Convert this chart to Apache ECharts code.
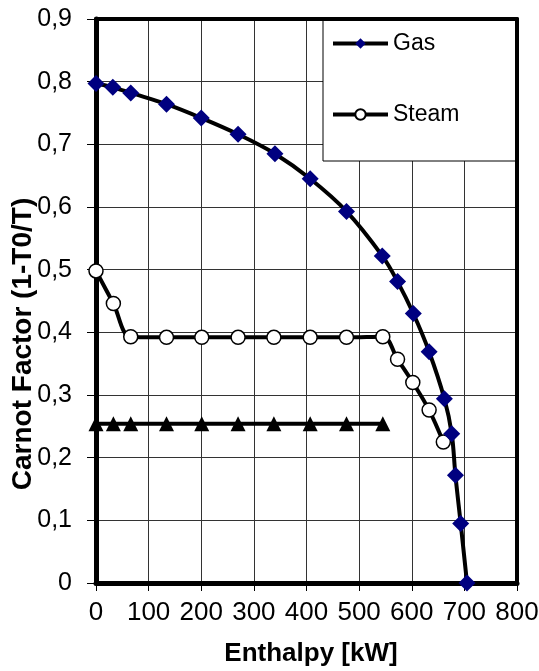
<!DOCTYPE html>
<html>
<head>
<meta charset="utf-8">
<script src="https://cdn.jsdelivr.net/npm/echarts@6/dist/echarts.min.js"></script>
<style>
html,body{margin:0;padding:0;background:#fff;}
#chart{width:539px;height:671px;}
</style>
</head>
<body>
<div id="chart"></div>
<script>
const gasX = [0, 32, 66, 134, 200, 270, 340, 407, 476, 544, 573, 603, 633, 662, 676, 683, 693, 705];
const gasY = [0.797, 0.791, 0.782, 0.764, 0.742, 0.716, 0.685, 0.645, 0.593, 0.522, 0.481, 0.430, 0.369, 0.294, 0.238, 0.172, 0.095, 0.0];
const steamX = [0, 33, 66, 134, 201, 270, 338, 407, 476, 545, 573, 602, 633, 660];
const steamY = [0.498, 0.446, 0.393, 0.392, 0.392, 0.392, 0.392, 0.392, 0.392, 0.393, 0.357, 0.320, 0.276, 0.225];
const refX = [0, 33, 66, 134, 201, 270, 338, 407, 476, 545];
const refY = [0.254, 0.254, 0.254, 0.254, 0.254, 0.254, 0.254, 0.254, 0.254, 0.254];
const yTickLabels = ['0', '0,1', '0,2', '0,3', '0,4', '0,5', '0,6', '0,7', '0,8', '0,9'];
const xTickLabels = ['0', '100', '200', '300', '400', '500', '600', '700', '800'];

const pairs = (xs, ys) => xs.map((x, i) => [x, ys[i]]);
const font = 'Liberation Sans, Arial, sans-serif';

const chart = echarts.init(document.getElementById('chart'));
chart.setOption({
  animation: false,
  backgroundColor: '#fff',
  grid: { left: 96, right: 22, top: 19, bottom: 88, containLabel: false, outerBoundsMode: 'none' },
  legend: {
    data: ['Gas', 'Steam'],
    orient: 'vertical',
    left: 323, top: 19,
    padding: [13, 59, 35, 8],
    itemWidth: 55, itemHeight: 13,
    itemGap: 48,
    backgroundColor: '#fff',
    borderColor: '#000', borderWidth: 1,
    lineStyle: { width: 4 },
    textStyle: { fontFamily: font, fontSize: 23, color: '#000' }
  },
  xAxis: [{
    type: 'value', min: 0, max: 800, interval: 100,
    name: 'Enthalpy [kW]', nameLocation: 'middle', nameGap: 58,
    nameTextStyle: { fontFamily: font, fontSize: 26, fontWeight: 'bold', color: '#000', padding: [0, 0, 0, 9] },
    axisLine: { show: true, onZero: false, lineStyle: { color: '#000', width: 5 } },
    axisTick: { show: true, inside: false, length: 8, lineStyle: { color: '#000', width: 1 } },
    axisLabel: { margin: 17, fontFamily: font, fontSize: 26, color: '#000',
      formatter: v => xTickLabels[Math.round(v / 100)] },
    splitLine: { show: true, lineStyle: { color: '#333', width: 1 } }
  }, {
    type: 'value', min: 0, max: 800, position: 'top', z: 10,
    axisLine: { show: true, onZero: false, lineStyle: { color: '#000', width: 4 } },
    axisTick: { show: false }, axisLabel: { show: false }, splitLine: { show: false }
  }],
  yAxis: [{
    type: 'value', min: 0, max: 0.9, interval: 0.1,
    name: 'Carnot Factor (1-T0/T)', nameLocation: 'middle', nameGap: 59,
    nameMoveOverlap: false,
    nameTextStyle: { fontFamily: font, fontSize: 28, fontWeight: 'bold', color: '#000', padding: [0, 86, 0, 0] },
    axisLine: { show: true, onZero: false, lineStyle: { color: '#000', width: 5 } },
    axisTick: { show: true, inside: false, length: 9, lineStyle: { color: '#000', width: 1 } },
    axisLabel: { margin: 24, fontFamily: font, fontSize: 25, color: '#000',
      formatter: v => yTickLabels[Math.round(v * 10)] },
    splitLine: { show: true, lineStyle: { color: '#333', width: 1 } }
  }, {
    type: 'value', min: 0, max: 0.9, position: 'right', z: 10,
    axisLine: { show: true, onZero: false, lineStyle: { color: '#000', width: 4 } },
    axisTick: { show: false }, axisLabel: { show: false }, splitLine: { show: false }
  }],
  series: [{
    name: 'Ref', type: 'line', data: pairs(refX, refY),
    symbol: 'triangle', symbolSize: 15,
    itemStyle: { color: '#000' },
    lineStyle: { color: '#000', width: 4 }
  }, {
    name: 'Steam', type: 'line', data: pairs(steamX, steamY), smooth: 0.35,
    symbol: 'circle', symbolSize: 14,
    itemStyle: { color: '#fff', borderColor: '#000', borderWidth: 1.5 },
    lineStyle: { color: '#000', width: 4 }
  }, {
    name: 'Gas', type: 'line', data: pairs(gasX, gasY), smooth: 0.35,
    symbol: 'diamond', symbolSize: 17,
    itemStyle: { color: '#000080' },
    lineStyle: { color: '#000', width: 4 }
  }]
});
</script>
</body>
</html>
